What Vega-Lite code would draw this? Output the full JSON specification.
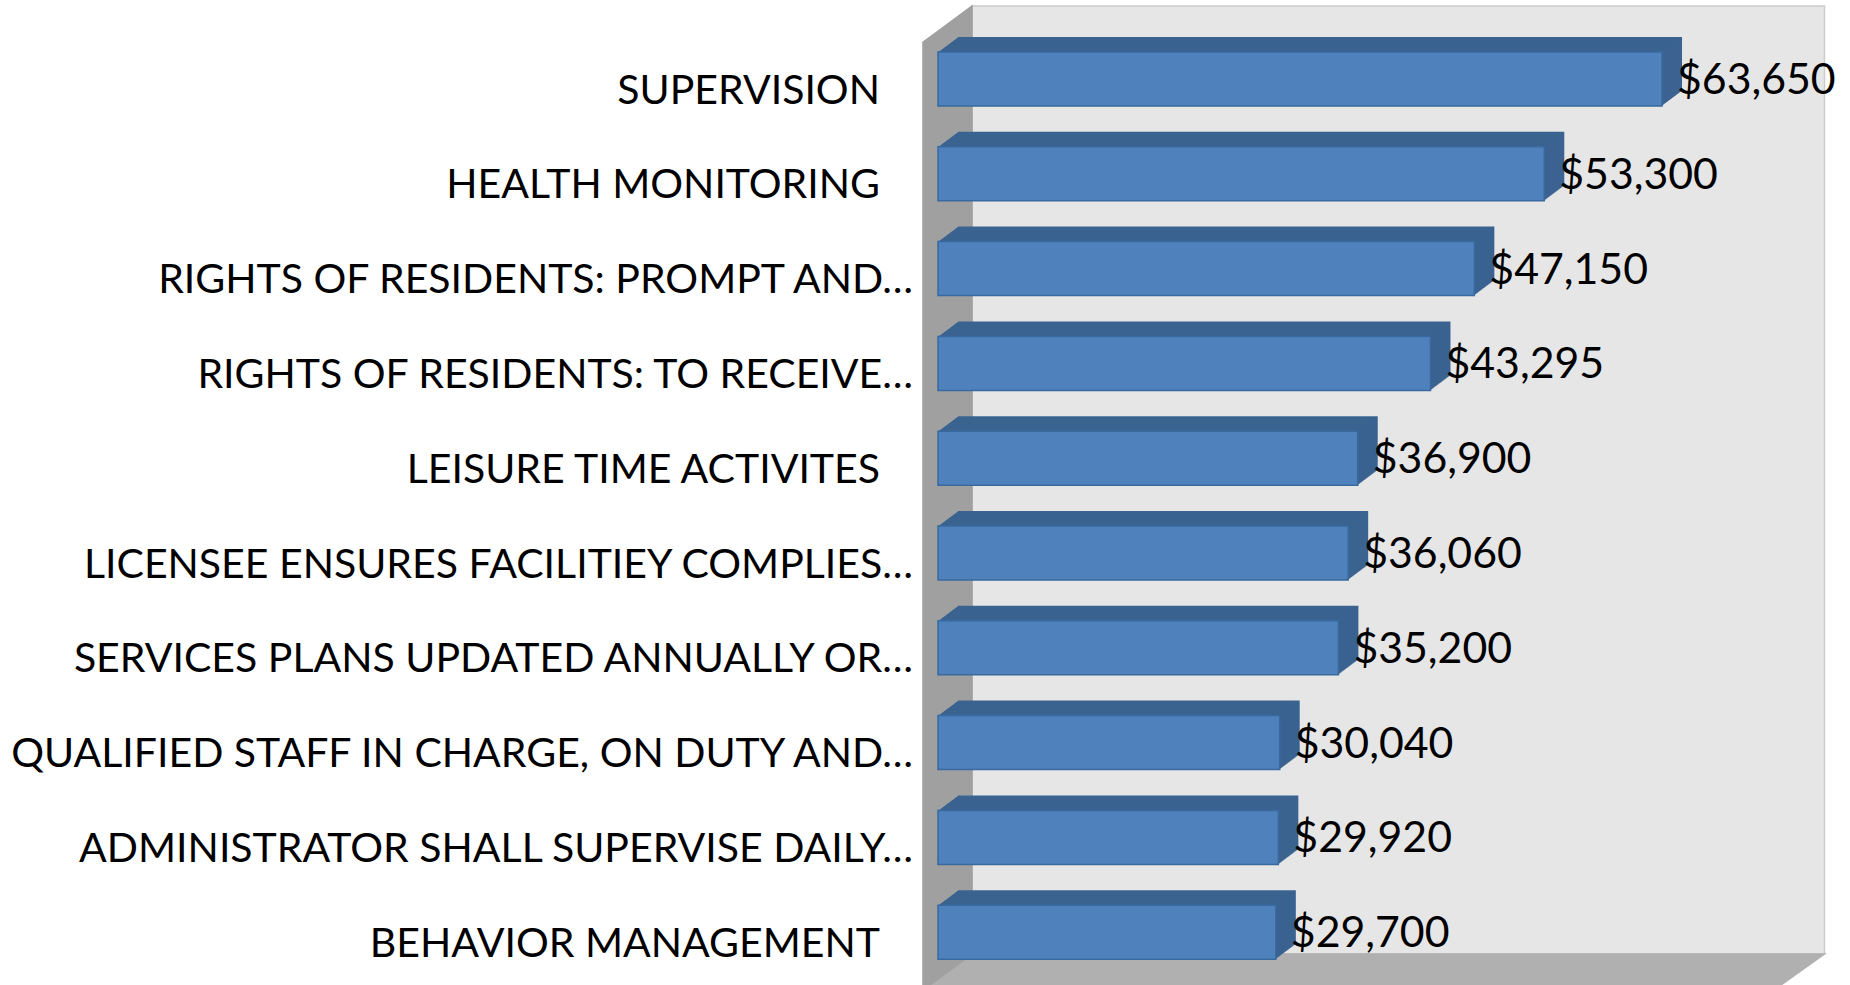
{"$schema":"https://vega.github.io/schema/vega-lite/v6.json","width":1850,"height":985,"padding":0,"autosize":"none","background":"white","config":{"view":{"stroke":null}},
"datasets":{"walls":[
{"wall":"back","x":2989,"y":6,"y2":954},{"wall":"back","x":77934,"y":6,"y2":954},
{"wall":"floor","x":-703,"y":985,"y2":985},{"wall":"floor","x":2989,"y":954,"y2":985},{"wall":"floor","x":74110,"y":954,"y2":985},{"wall":"floor","x":77934,"y":954,"y2":954},
{"wall":"left","x":-1319,"y":42,"y2":985},{"wall":"left","x":-703,"y":37,"y2":985},{"wall":"left","x":2989,"y":6,"y2":954}],
"rows":[
{"label":"SUPERVISION","cost":63650,"cut":false},
{"label":"HEALTH MONITORING","cost":53300,"cut":false},
{"label":"RIGHTS OF RESIDENTS: PROMPT AND…","cost":47150,"cut":true},
{"label":"RIGHTS OF RESIDENTS: TO RECEIVE…","cost":43295,"cut":true},
{"label":"LEISURE TIME ACTIVITES","cost":36900,"cut":false},
{"label":"LICENSEE ENSURES FACILITIEY COMPLIES…","cost":36060,"cut":true},
{"label":"SERVICES PLANS UPDATED ANNUALLY OR…","cost":35200,"cut":true},
{"label":"QUALIFIED STAFF IN CHARGE, ON DUTY AND…","cost":30040,"cut":true},
{"label":"ADMINISTRATOR SHALL SUPERVISE DAILY…","cost":29920,"cut":true},
{"label":"BEHAVIOR MANAGEMENT","cost":29700,"cut":false}]},
"resolve":{"scale":{"y":"independent"},"axis":{"y":"independent"}},
"layer":[
{"data":{"name":"walls"},"mark":{"type":"area","strokeWidth":1.5},
"encoding":{"x":{"field":"x","type":"quantitative","axis":null,"scale":{"domain":[-82462,80176],"nice":false,"zero":false}},
"y":{"field":"y","type":"quantitative","axis":null,"scale":{"domain":[0,985],"reverse":true,"nice":false,"zero":false}},"y2":{"field":"y2"},
"color":{"field":"wall","type":"nominal","legend":null,"scale":{"domain":["back","floor","left"],"range":["#e6e6e6","#b0b0b0","#a0a0a0"]}},
"stroke":{"field":"wall","type":"nominal","legend":null,"scale":{"domain":["back","floor","left"],"range":["#cccccc","#b0b0b0","#a0a0a0"]}}}},
{"data":{"name":"rows"},
"encoding":{"x":{"field":"cost","type":"quantitative","axis":null,"scale":{"domain":[-82462,80176],"nice":false,"zero":false}},
"y":{"field":"label","type":"nominal","sort":null,"axis":null,"scale":{"range":[31.6,979.6],"paddingInner":0.43,"paddingOuter":0.215}}},
"layer":[
{"mark":{"type":"bar","fill":"#3b6391","xOffset":20,"x2Offset":20,"yOffset":-15,"y2Offset":-15}},
{"mark":{"type":"bar","fill":"#3b6391","xOffset":19,"x2Offset":19,"yOffset":-14.25,"y2Offset":-14.25}},
{"mark":{"type":"bar","fill":"#3b6391","xOffset":18,"x2Offset":18,"yOffset":-13.5,"y2Offset":-13.5}},
{"mark":{"type":"bar","fill":"#3b6391","xOffset":17,"x2Offset":17,"yOffset":-12.75,"y2Offset":-12.75}},
{"mark":{"type":"bar","fill":"#3b6391","xOffset":16,"x2Offset":16,"yOffset":-12,"y2Offset":-12}},
{"mark":{"type":"bar","fill":"#3b6391","xOffset":15,"x2Offset":15,"yOffset":-11.25,"y2Offset":-11.25}},
{"mark":{"type":"bar","fill":"#3b6391","xOffset":14,"x2Offset":14,"yOffset":-10.5,"y2Offset":-10.5}},
{"mark":{"type":"bar","fill":"#3b6391","xOffset":13,"x2Offset":13,"yOffset":-9.75,"y2Offset":-9.75}},
{"mark":{"type":"bar","fill":"#3b6391","xOffset":12,"x2Offset":12,"yOffset":-9,"y2Offset":-9}},
{"mark":{"type":"bar","fill":"#3b6391","xOffset":11,"x2Offset":11,"yOffset":-8.25,"y2Offset":-8.25}},
{"mark":{"type":"bar","fill":"#3b6391","xOffset":10,"x2Offset":10,"yOffset":-7.5,"y2Offset":-7.5}},
{"mark":{"type":"bar","fill":"#3b6391","xOffset":9,"x2Offset":9,"yOffset":-6.75,"y2Offset":-6.75}},
{"mark":{"type":"bar","fill":"#3b6391","xOffset":8,"x2Offset":8,"yOffset":-6,"y2Offset":-6}},
{"mark":{"type":"bar","fill":"#3b6391","xOffset":7,"x2Offset":7,"yOffset":-5.25,"y2Offset":-5.25}},
{"mark":{"type":"bar","fill":"#3b6391","xOffset":6,"x2Offset":6,"yOffset":-4.5,"y2Offset":-4.5}},
{"mark":{"type":"bar","fill":"#3b6391","xOffset":5,"x2Offset":5,"yOffset":-3.75,"y2Offset":-3.75}},
{"mark":{"type":"bar","fill":"#3b6391","xOffset":4,"x2Offset":4,"yOffset":-3,"y2Offset":-3}},
{"mark":{"type":"bar","fill":"#3b6391","xOffset":3,"x2Offset":3,"yOffset":-2.25,"y2Offset":-2.25}},
{"mark":{"type":"bar","fill":"#3b6391","xOffset":2,"x2Offset":2,"yOffset":-1.5,"y2Offset":-1.5}},
{"mark":{"type":"bar","fill":"#3b6391","xOffset":1,"x2Offset":1,"yOffset":-0.75,"y2Offset":-0.75}},
{"mark":{"type":"bar","fill":"#4f81bd","stroke":"#386a9f","strokeWidth":1.5}},
{"mark":{"type":"text","align":"left","baseline":"middle","dx":15,"dy":2,"font":"Lato","fontSize":42.8,"color":"#000000"},"encoding":{"text":{"field":"cost","type":"quantitative","format":"$,.0f"}}},
{"transform":[{"filter":"datum.cut"}],"mark":{"type":"text","align":"right","baseline":"middle","dx":-25,"dy":12.5,"font":"Lato","fontSize":41,"color":"#000000"},"encoding":{"x":{"datum":0},"text":{"field":"label"}}},
{"transform":[{"filter":"!datum.cut"}],"mark":{"type":"text","align":"right","baseline":"middle","dx":-58,"dy":12.5,"font":"Lato","fontSize":41,"color":"#000000"},"encoding":{"x":{"datum":0},"text":{"field":"label"}}}
]}
]}
